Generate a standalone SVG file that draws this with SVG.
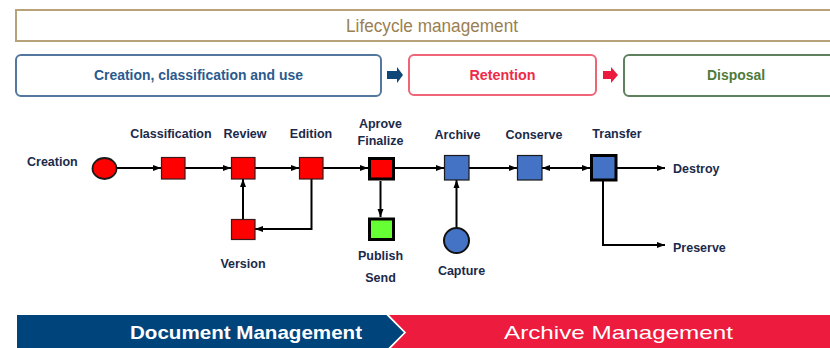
<svg xmlns="http://www.w3.org/2000/svg" width="830" height="348" viewBox="0 0 830 348">
<defs>
<style>
.lbl{font-family:"Liberation Sans",Arial,sans-serif;font-weight:bold;font-size:12.5px;fill:#1b2a4a}
.lm{text-anchor:middle}
.ln{fill:none;stroke:#000;stroke-width:2}
.red{fill:#ff0000;stroke:#3a1a1a;stroke-width:1.2}
.blue{fill:#4472c4;stroke:#1a1a1a;stroke-width:1.2}
.hdr{font-family:"Liberation Sans",Arial,sans-serif;text-anchor:middle}
</style>
<marker id="ah" markerUnits="userSpaceOnUse" markerWidth="9" markerHeight="7" refX="8" refY="3.5" orient="auto-start-reverse">
<path d="M0,0.5 L8,3.5 L0,6.5 z" fill="#000"/>
</marker>
</defs>
<rect width="830" height="348" fill="#fff"/>

<g id="lifecycle">
<rect x="16" y="10" width="830" height="31" fill="#fff" stroke="#b8a27a" stroke-width="2"/>
<text class="hdr" x="432" y="31.5" font-size="18" fill="#9a7f52" textLength="172" lengthAdjust="spacingAndGlyphs">Lifecycle management</text>
</g>

<g id="phase-creation">
<rect x="16" y="55" width="365" height="41" rx="5" fill="#fff" stroke="#53779e" stroke-width="2"/>
<text class="hdr" x="198.5" y="80" font-size="14.5" font-weight="bold" fill="#2b5a8e" textLength="209" lengthAdjust="spacingAndGlyphs">Creation, classification and use</text>
</g>
<g id="arrow-blue">
<polygon points="387,71 397,71 397,67 403,75 397,83 397,79 387,79" fill="#0e4678"/>
</g>
<g id="phase-retention">
<rect x="409" y="55" width="187" height="40" rx="5" fill="#fff" stroke="#f06478" stroke-width="2"/>
<text class="hdr" x="502.5" y="80" font-size="14.5" font-weight="bold" fill="#ee2a48" textLength="66" lengthAdjust="spacingAndGlyphs">Retention</text>
</g>
<g id="arrow-red">
<polygon points="603,71 611,71 611,67 618,75 611,83 611,79 603,79" fill="#ec1b3d"/>
</g>
<g id="phase-disposal">
<rect x="624" y="55" width="230" height="41" rx="5" fill="#fff" stroke="#5f805f" stroke-width="2"/>
<text class="hdr" x="736" y="80" font-size="14.5" font-weight="bold" fill="#4f7a3a" textLength="58" lengthAdjust="spacingAndGlyphs">Disposal</text>
</g>

<g id="connectors">
<line class="ln" x1="117" y1="168" x2="161" y2="168" marker-end="url(#ah)"/>
<line class="ln" x1="185" y1="168" x2="231" y2="168" marker-end="url(#ah)"/>
<line class="ln" x1="255" y1="168" x2="299" y2="168" marker-end="url(#ah)"/>
<line class="ln" x1="323" y1="168" x2="368" y2="168" marker-end="url(#ah)"/>
<line class="ln" x1="394" y1="168" x2="444" y2="168" marker-end="url(#ah)"/>
<line class="ln" x1="469" y1="168" x2="517" y2="168" marker-end="url(#ah)"/>
<line class="ln" x1="542" y1="168" x2="590" y2="168" marker-start="url(#ah)" marker-end="url(#ah)"/>
<line class="ln" x1="617" y1="168" x2="665" y2="168" marker-end="url(#ah)"/>
<polyline class="ln" points="603,181 603,245 665,245" marker-end="url(#ah)"/>
<polyline class="ln" points="311.5,179 311.5,229 255,229" marker-end="url(#ah)"/>
<line class="ln" x1="243" y1="219" x2="243" y2="179" marker-end="url(#ah)"/>
<line class="ln" x1="380.5" y1="181" x2="380.5" y2="217" stroke-width="3" marker-end="url(#ah)"/>
<line class="ln" x1="456.5" y1="227" x2="456.5" y2="180" marker-end="url(#ah)"/>
</g>

<g id="creation">
<ellipse cx="104.5" cy="168.5" rx="12" ry="10.5" fill="#ff0000" stroke="#1a1a1a" stroke-width="1.8"/>
<text class="lbl" x="27" y="166">Creation</text>
</g>
<g id="classification">
<rect class="red" x="161.5" y="157.5" width="23.5" height="21.5"/>
<text class="lbl lm" x="171" y="138">Classification</text>
</g>
<g id="review">
<rect class="red" x="231.5" y="157.5" width="23.5" height="21.5"/>
<text class="lbl lm" x="245" y="138">Review</text>
</g>
<g id="edition">
<rect class="red" x="299.5" y="157.5" width="23.5" height="21.5"/>
<text class="lbl lm" x="311" y="138">Edition</text>
</g>
<g id="version">
<rect class="red" x="231.5" y="219.5" width="23.5" height="20"/>
<text class="lbl lm" x="243" y="268">Version</text>
</g>
<g id="aprove">
<rect x="369.5" y="158.5" width="24" height="20.5" fill="#ff0000" stroke="#000" stroke-width="3"/>
<text class="lbl lm" x="380.5" y="128">Aprove</text>
<text class="lbl lm" x="380.5" y="145">Finalize</text>
</g>
<g id="publish">
<rect x="369.5" y="219" width="24" height="20.5" fill="#66ff33" stroke="#000" stroke-width="3"/>
<text class="lbl lm" x="380.5" y="260">Publish</text>
<text class="lbl lm" x="380.5" y="282">Send</text>
</g>
<g id="archive">
<rect class="blue" x="444.5" y="155.5" width="24.5" height="24.5"/>
<text class="lbl lm" x="457.5" y="139">Archive</text>
</g>
<g id="capture">
<circle cx="456.5" cy="240.5" r="12.5" fill="#4472c4" stroke="#111" stroke-width="2"/>
<text class="lbl lm" x="461.5" y="275">Capture</text>
</g>
<g id="conserve">
<rect class="blue" x="517.5" y="155.5" width="24.5" height="24.5"/>
<text class="lbl lm" x="534" y="139">Conserve</text>
</g>
<g id="transfer">
<rect x="591.5" y="155.5" width="24.5" height="24.5" fill="#4472c4" stroke="#000" stroke-width="3"/>
<text class="lbl lm" x="617" y="138">Transfer</text>
</g>
<g id="destroy">
<text class="lbl" x="673" y="173">Destroy</text>
</g>
<g id="preserve">
<text class="lbl" x="673" y="252">Preserve</text>
</g>

<g id="bottom-band">
<polygon points="389,315 840,315 840,350 389,350 406,332.5" fill="#ed1b3d"/>
<polygon points="17,315 386.5,315 404,332.5 386.5,350 17,350" fill="#00447c"/>
<polyline points="387.5,315 405,332.5 387.5,350" fill="none" stroke="#fff" stroke-width="1.2"/>
<text class="hdr" x="246" y="339" font-size="19" font-weight="bold" fill="#fff" textLength="232" lengthAdjust="spacingAndGlyphs">Document Management</text>
<text class="hdr" x="618.5" y="339" font-size="19" fill="#fff" textLength="229" lengthAdjust="spacingAndGlyphs">Archive Management</text>
</g>
</svg>
